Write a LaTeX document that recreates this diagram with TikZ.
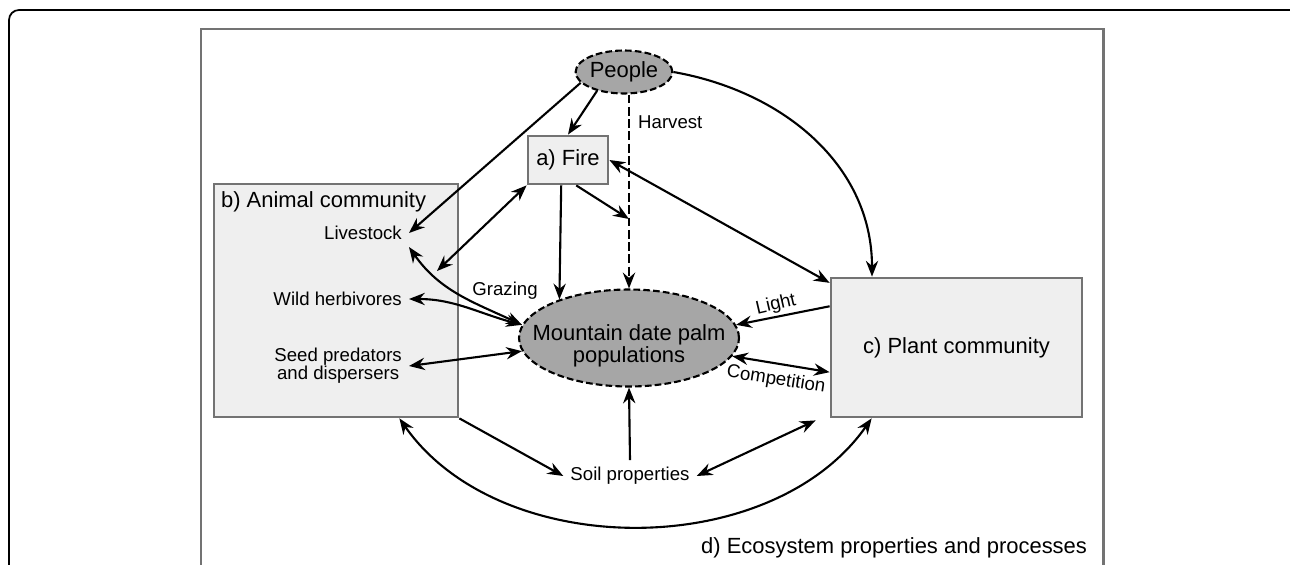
\documentclass[tikz,border=0pt]{standalone}
\usepackage{fontspec}
\setmainfont{Liberation Sans}
\usepackage{tikz}
\usetikzlibrary{arrows.meta, shapes.geometric}

\definecolor{framegray}{RGB}{115,115,115}
\definecolor{boxfill}{RGB}{239,239,239}
\definecolor{popfill}{RGB}{166,166,166}

\begin{document}
\begin{tikzpicture}[x=0.02cm, y=-0.02cm, line width=1.2pt,
		>={Stealth[length=9pt, width=7pt, inset=3pt]},
		heading/.style={font=\fontsize{12.5}{12.5}\selectfont, inner sep=0pt, align=center},
		note/.style={font=\fontsize{10.6}{10.2}\selectfont, inner sep=3.5pt, align=center},
		part/.style={rectangle, draw=framegray, line width=1.6pt, fill=boxfill, inner sep=0pt},
		pop/.style={ellipse, draw, fill=popfill, line width=1.2pt, dash pattern=on 3.8pt off 1.8pt, inner sep=0pt}]

		\useasboundingbox (0,0) rectangle (1290,564);
		\clip (0,0) rectangle (1290,564);

		\draw[line width=1pt, rounded corners=0.2cm] (9,580) -- (9,10) -- (1300,10) -- (1300,580);
		\draw[framegray, line width=1.7pt] (201,580) -- (201,29) -- (1103,29) -- (1103,580);
		\node[heading, anchor=base east] (n-eco) at (1088,553) {d) Ecosystem properties and processes};

		\node[pop, heading, minimum width=1.92cm, minimum height=0.86cm] (n-people) at (624,72) {People};
		\node[part, heading, minimum width=1.6cm, minimum height=0.96cm] (n-fire) at (568,160) {a) Fire};

		\node[part, minimum width=4.88cm, minimum height=4.66cm] (n-animal) at (336,300.5) {};
		\node[heading, anchor=base west] (n-animal-t) at (220,208) {b) Animal community};
		\node[note, anchor=east] (n-live) at (409,233) {Livestock};
		\node[note, anchor=east] (n-wild) at (409,299) {Wild herbivores};
		\node[note, anchor=east] (n-seed) at (409,366) {Seed predators\\and dispersers};

		\node[part, heading, minimum width=5.02cm, minimum height=2.78cm] (n-plant) at (956.5,347.5) {c) Plant community};

		\node[pop, minimum width=4.4cm, minimum height=1.94cm] (n-palm) at (629,338) {};
		\node[heading] (n-palm-t) at (629,346) {Mountain date palm\\populations};

		\node[note] (n-soil) at (630,476) {Soil properties};

		\node[note, anchor=west] (n-harvest) at (631,122) {Harvest};
		\node[note] (n-grazing) at (505,291) {Grazing};
		\node[note, rotate=13] (n-light) at (776,305) {Light};
		\node[note, rotate=-9] (n-comp) at (776,380) {Competition};

		\coordinate (c-harv) at (629,219);
		\coordinate (c-graze) at (437,271);

		\draw[->] (n-people.215) -- (n-fire.north);
		\draw[->] (n-people.194) -- (n-live.east);
		\draw[->] (n-people.east) to[out=-10, in=90] (n-plant.140);
		\draw[->, dash pattern=on 5pt off 2pt] (n-palm.north |- n-people.south) -- (n-palm.north);
		\draw[->] (n-fire.-72) -- (c-harv);
		\draw[->] (n-fire.-105) -- (n-palm.151);
		\draw[<->] (n-fire.east) -- (n-plant.153);
		\draw[<->] (n-fire.south west) -- (c-graze);

		\draw[<->] (n-live.south east) to[out=-55, in=155] (n-palm.173);
		\draw[<->] (n-wild.east) to[out=0, in=165] (n-palm.173);
		\draw[<->] (n-seed.east) -- (n-palm.187);

		\draw[->] (n-plant.162) -- (n-palm.7);
		\draw[<->] (n-palm.-10) -- (n-plant.191);

		\draw[->] (n-soil.north) -- (n-palm.south);
		\draw[->] (n-animal.south east) -- (n-soil.west);
		\draw[<->] (n-soil.east) -- ([shift={(-14,2)}]n-plant.south west);
		\draw[<->] ([shift={(-60,0)}]n-animal.south east) to[out=-55, in=-125, looseness=0.95] ([shift={(42,0)}]n-plant.south west);
	\end{tikzpicture}
\end{document}
